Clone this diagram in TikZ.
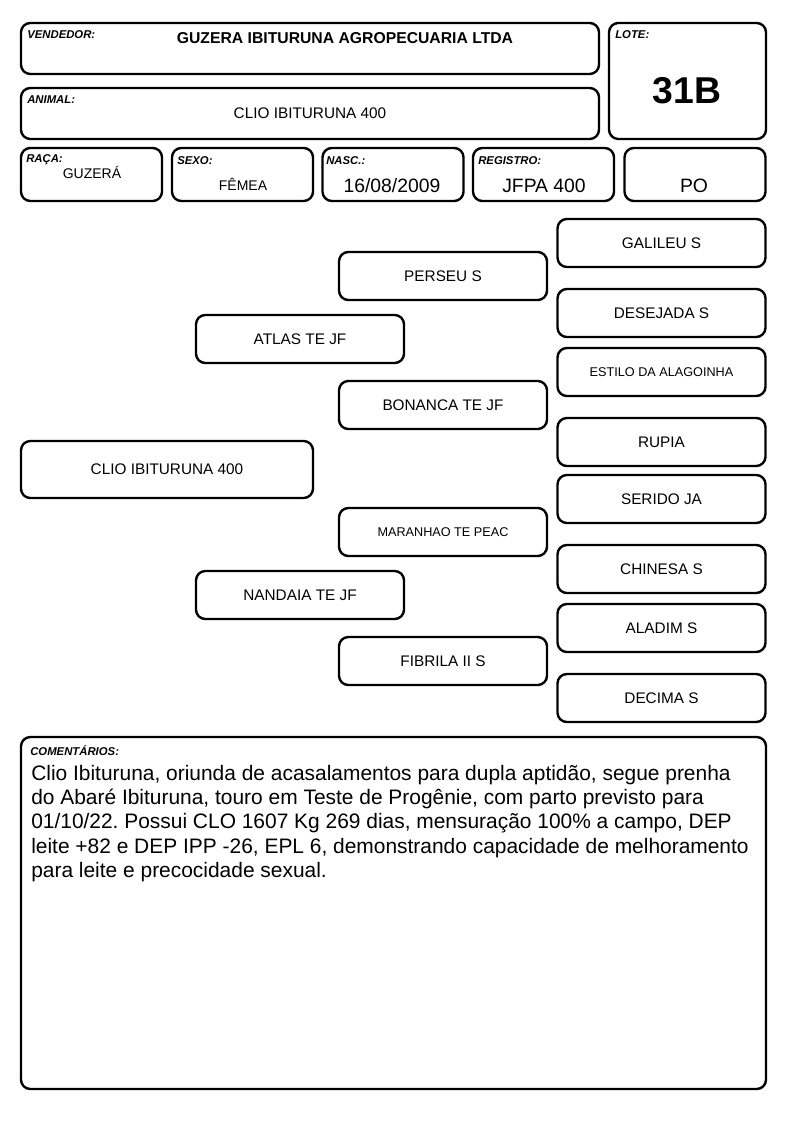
\documentclass[tikz,border=0pt]{standalone}
\usepackage{fontspec}
\setmainfont{Liberation Sans}
\newcommand{\fsize}[1]{\fontsize{#1pt}{#1pt}\selectfont}
\frenchspacing

\begin{document}
\begin{tikzpicture}[x=0.75pt,y=-0.75pt,
  box/.style={draw,line width=1.8pt,rounded corners=7pt,inner sep=0pt},
  ped/.style={box,minimum width=156pt,minimum height=36pt,font=\fsize{11.5}},
  head/.style={box,minimum width=105.75pt,minimum height=39.75pt},
  tag/.style={anchor=north west,inner sep=0pt,font=\fsize{8.5}\bfseries\itshape},
  val/.style={inner sep=0pt,font=\fsize{14.5}}]
\useasboundingbox (0,0) rectangle (794,1123);

% header
\node[box,minimum width=433.5pt,minimum height=38.25pt] (vendedor) at (310,48.5) {};
\node[box,minimum width=433.5pt,minimum height=38.25pt] (animal) at (310,113.5) {};
\node[box,minimum width=117.75pt,minimum height=87pt] (lote) at (687.5,81) {};
\node[tag] (tvend) at (27,30) {VENDEDOR:};
\node[tag] (tanim) at (27,95) {ANIMAL:};
\node[tag] (tlote) at (615,30) {LOTE:};
\node[inner sep=0pt,font=\fsize{11.8}\bfseries] (nvend) at (345,38) {GUZERA IBITURUNA AGROPECUARIA LTDA};
\node[inner sep=0pt,font=\fsize{11.5}] (nanim) at (310,113) {CLIO IBITURUNA 400};
\node[inner sep=0pt,font=\fsize{28}\bfseries] (nlote) at (687,91) {31B};

\node[head] (raca) at (91.5,174.5) {};
\node[head] (sexo) at (242.5,174.5) {};
\node[head] (nasc) at (393,174.5) {};
\node[head] (registro) at (543.5,174.5) {};
\node[head] (po) at (695,174.5) {};
\node[tag] (traca) at (26,154) {RAÇA:};
\node[tag] (tsexo) at (177,156) {SEXO:};
\node[tag] (tnasc) at (326,156) {NASC.:};
\node[tag] (treg) at (478,156) {REGISTRO:};
\node[inner sep=0pt,font=\fsize{10.5}] (nraca) at (92,172) {GUZERÁ};
\node[inner sep=0pt,font=\fsize{10.5}] (nsexo) at (243,184) {FÊMEA};
\node[val] (nnasc) at (392,186) {16/08/2009};
\node[val] (nreg) at (544,186) {JFPA 400};
\node[val] (npo) at (694,186) {PO};

% pedigree
\node[ped,minimum width=219pt,minimum height=42.75pt] (clio) at (167,469.5) {CLIO IBITURUNA 400};
\node[ped] (atlas) at (300,339) {ATLAS TE JF};
\node[ped] (nandaia) at (300,595) {NANDAIA TE JF};
\node[ped] (perseu) at (443,276) {PERSEU S};
\node[ped] (bonanca) at (443,405) {BONANCA TE JF};
\node[ped,font=\fsize{9.5}] (maranhao) at (443,532) {MARANHAO TE PEAC};
\node[ped] (fibrila) at (443,661) {FIBRILA II S};
\node[ped] (galileu) at (661.5,243) {GALILEU S};
\node[ped] (desejada) at (661.5,313) {DESEJADA S};
\node[ped,font=\fsize{9.5}] (estilo) at (661.5,372) {ESTILO DA ALAGOINHA};
\node[ped] (rupia) at (661.5,442) {RUPIA};
\node[ped] (serido) at (661.5,499) {SERIDO JA};
\node[ped] (chinesa) at (661.5,569) {CHINESA S};
\node[ped] (aladim) at (661.5,628) {ALADIM S};
\node[ped] (decima) at (661.5,698) {DECIMA S};

% comments
\node[box,minimum width=558.75pt,minimum height=264pt] (coment) at (393.5,913) {};
\node[tag] (tcoment) at (30,745) {COMENTÁRIOS:};
\node[anchor=north west,inner sep=0pt,align=left,font=\fontsize{15.7pt}{18.2pt}\selectfont] (ncoment) at (31,765)
{Clio Ibituruna, oriunda de acasalamentos para dupla aptidão, segue prenha\\
do Abaré Ibituruna, touro em Teste de Progênie, com parto previsto para\\
01/10/22. Possui CLO 1607 Kg 269 dias, mensuração 100\% a campo, DEP\\
leite +82 e DEP IPP -26, EPL 6, demonstrando capacidade de melhoramento\\
para leite e precocidade sexual.};
\end{tikzpicture}
\end{document}
